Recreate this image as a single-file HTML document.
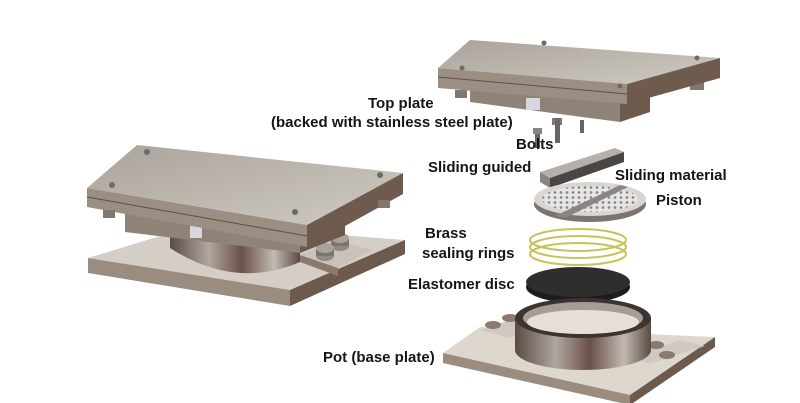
<!DOCTYPE html>
<html><head><style>
html,body{margin:0;padding:0;background:#fff;}
svg{display:block;}
text{font-family:"Liberation Sans",sans-serif;font-weight:bold;font-size:15px;fill:#151515;}
</style></head><body>
<svg width="800" height="403" viewBox="0 0 800 403" xmlns="http://www.w3.org/2000/svg">
<defs>
<linearGradient id="top" x1="0" y1="0" x2="1" y2="1"><stop offset="0" stop-color="#a9a39b"/><stop offset="1" stop-color="#cfcac3"/></linearGradient>
<linearGradient id="side" x1="0" y1="0" x2="1" y2="0"><stop offset="0" stop-color="#8a7a6c"/><stop offset="1" stop-color="#6e5a4c"/></linearGradient>
<linearGradient id="metal" x1="0" y1="0" x2="1" y2="0"><stop offset="0" stop-color="#5a4b45"/><stop offset=".3" stop-color="#b0a7a0"/><stop offset=".55" stop-color="#6a5048"/><stop offset=".8" stop-color="#c2bab2"/><stop offset="1" stop-color="#5a4a44"/></linearGradient>
<pattern id="dots" width="6" height="5" patternUnits="userSpaceOnUse"><rect width="6" height="5" fill="#e8e6e4"/><circle cx="3" cy="2.5" r="1.4" fill="#8a8a8a"/></pattern>
</defs>

<!-- LEFT ASSEMBLY -->
<!-- base plate -->
<polygon points="88,258 200,224 405,240 290,290" fill="#d4cec6"/>
<polygon points="88,258 290,290 290,306 88,273" fill="#9a8d80"/>
<polygon points="290,290 405,240 405,254 290,306" fill="#6e5a4c"/>
<!-- pot cylinder -->
<path d="M170,248 Q235,290 300,262 L300,232 L170,232 Z" fill="url(#metal)"/>
<!-- bolt block -->
<polygon points="300,255 335,240 372,250 338,268" fill="#c8c2ba"/>
<polygon points="300,255 338,268 338,276 300,262" fill="#8a7a6c"/>
<ellipse cx="340" cy="246" rx="9" ry="5" fill="#8f8a85"/><rect x="331" y="238" width="18" height="8" fill="#7d756f"/><ellipse cx="340" cy="238" rx="9" ry="5" fill="#a8a29c"/>
<ellipse cx="325" cy="256" rx="9" ry="5" fill="#8f8a85"/><rect x="316" y="248" width="18" height="8" fill="#7d756f"/><ellipse cx="325" cy="248" rx="9" ry="5" fill="#a8a29c"/>
<!-- top plate under parts -->
<polygon points="125,212 300,232 300,253 125,232" fill="#8f8276"/>
<polygon points="300,232 345,215 345,235 300,253" fill="#6e5a4c"/>
<rect x="190" y="226" width="12" height="12" fill="#d8d8dc"/>
<!-- top plate -->
<polygon points="87,188 137,145 403,173 307,225" fill="url(#top)"/>
<polygon points="87,188 307,225 307,247 87,207" fill="#9b8e82"/>
<line x1="87" y1="197" x2="307" y2="236" stroke="#5e5048" stroke-width="1"/>
<polygon points="307,225 403,173 403,194 307,247" fill="#6f5b4d"/>
<circle cx="147" cy="152" r="3" fill="#6e6a66"/><circle cx="380" cy="175" r="3" fill="#6e6a66"/><circle cx="295" cy="212" r="3" fill="#6e6a66"/><circle cx="112" cy="185" r="3" fill="#6e6a66"/>
<rect x="103" y="210" width="12" height="8" fill="#807870"/><rect x="378" y="200" width="12" height="8" fill="#807870"/>

<!-- RIGHT EXPLODED -->
<!-- top plate underparts -->
<polygon points="470,82 620,102 620,122 470,102" fill="#8f8276"/>
<polygon points="620,102 650,92 650,112 620,122" fill="#6e5a4c"/>
<rect x="526" y="98" width="14" height="12" fill="#d8d8dc"/>
<rect x="455" y="90" width="12" height="8" fill="#807870"/><rect x="690" y="82" width="14" height="8" fill="#807870"/>
<!-- top plate -->
<polygon points="438,68 470,40 720,58 627,84" fill="url(#top)"/>
<polygon points="438,68 627,84 627,104 438,88" fill="#9b8e82"/>
<line x1="438" y1="77" x2="627" y2="94" stroke="#5e5048"/>
<polygon points="627,84 720,58 720,78 627,104" fill="#6f5b4d"/>
<circle cx="544" cy="43" r="2.5" fill="#6e6a66"/><circle cx="697" cy="58" r="2.5" fill="#6e6a66"/><circle cx="620" cy="86" r="2.5" fill="#6e6a66"/><circle cx="462" cy="68" r="2.5" fill="#6e6a66"/>
<!-- bolts -->
<rect x="555" y="120" width="5" height="22" fill="#6a6462"/><rect x="553" y="118" width="9" height="6" fill="#8a8480"/>
<rect x="580" y="120" width="4" height="13" fill="#6a6462"/>
<rect x="555" y="120" width="5" height="22" fill="#6a6462"/>
<rect x="552" y="118" width="10" height="7" fill="#7f7975"/>
<rect x="555" y="118" width="5" height="25" fill="#6a6462"/>
<rect x="554" y="118" width="0" height="0"/>
<rect x="535" y="130" width="5" height="18" fill="#6a6462"/><rect x="533" y="128" width="9" height="6" fill="#8a8480"/>
<rect x="500" y="0" width="0" height="0"/>
<!-- guide bar -->
<polygon points="540,172 615,148 624,152 550,178" fill="#b5b0ab"/>
<polygon points="540,172 550,178 550,188 540,182" fill="#8a8582"/>
<polygon points="550,178 624,152 624,162 550,188" fill="#4a4644"/>
<!-- piston -->
<ellipse cx="590" cy="204" rx="56" ry="18" fill="#7a7370"/>
<ellipse cx="590" cy="199" rx="56" ry="17" fill="#d9d6d2"/>
<ellipse cx="590" cy="199" rx="48" ry="13" fill="url(#dots)"/>
<polygon points="555,216 620,185 628,187 565,218" fill="#8a8582"/>
<!-- brass rings -->
<g fill="none" stroke="#c8c25a" stroke-width="2">
<ellipse cx="578" cy="240" rx="48" ry="11"/><ellipse cx="578" cy="247" rx="48" ry="11"/><ellipse cx="578" cy="254" rx="48" ry="11"/>
</g>
<!-- elastomer -->
<ellipse cx="578" cy="287" rx="52" ry="16" fill="#1c1c1c"/>
<ellipse cx="578" cy="282" rx="52" ry="15" fill="#2e2e2e"/>
<!-- base plate -->
<polygon points="443,353 480,327 715,337 630,395" fill="#ddd7ce"/>
<polygon points="443,353 630,395 630,405 443,363" fill="#9a8d80"/>
<polygon points="630,395 715,337 715,347 630,405" fill="#6e5a4c"/>
<!-- bolt blocks -->
<polygon points="480,330 510,320 540,326 510,338" fill="#cfc9c1"/>
<ellipse cx="493" cy="325" rx="8" ry="4" fill="#8a7a70"/><ellipse cx="510" cy="318" rx="8" ry="4" fill="#8a7a70"/>
<polygon points="628,357 680,340 705,346 650,364" fill="#cfc9c1"/>
<ellipse cx="656" cy="345" rx="8" ry="4" fill="#8a7a70"/><ellipse cx="667" cy="355" rx="8" ry="4" fill="#8a7a70"/>
<!-- pot ring -->
<path d="M515,318 L515,350 A68,20 0 0 0 651,350 L651,318 Z" fill="url(#metal)"/>
<ellipse cx="583" cy="318" rx="68" ry="20" fill="#3a3432"/>
<ellipse cx="583" cy="318" rx="60" ry="16" fill="#a89d95"/>
<ellipse cx="583" cy="322" rx="56" ry="12" fill="#e6e0d8"/>

<!-- LABELS -->
<text x="368" y="108">Top plate</text>
<text x="271" y="127">(backed with stainless steel plate)</text>
<text x="516" y="149">Bolts</text>
<text x="428" y="172">Sliding guided</text>
<text x="615" y="180">Sliding material</text>
<text x="656" y="205">Piston</text>
<text x="425" y="238">Brass</text>
<text x="422" y="258">sealing rings</text>
<text x="408" y="289">Elastomer disc</text>
<text x="323" y="362">Pot (base plate)</text>
</svg>
</body></html>
